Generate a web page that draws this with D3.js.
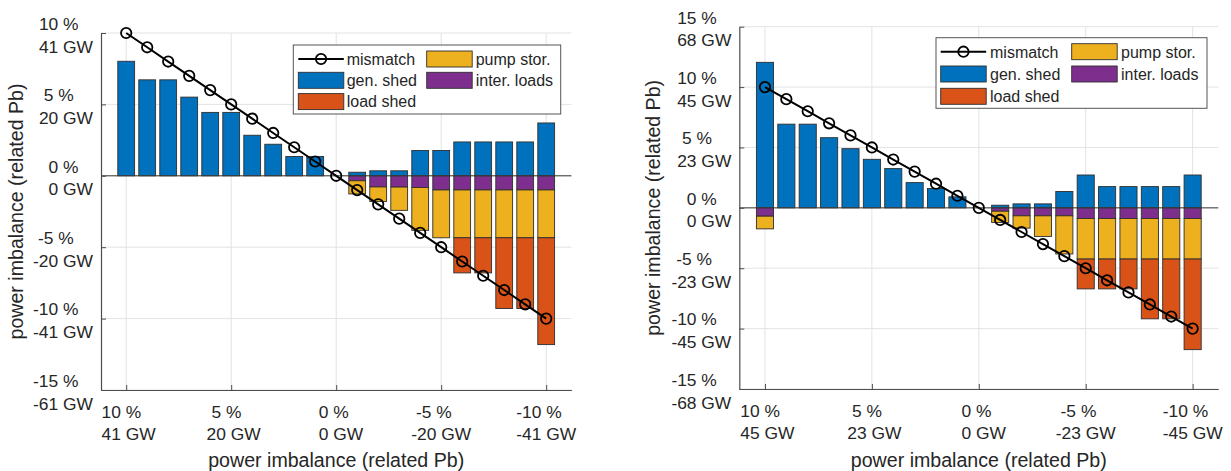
<!DOCTYPE html>
<html>
<head>
<meta charset="utf-8">
<script src="https://cdn.jsdelivr.net/npm/d3@7"></script>
<style>
  body { margin: 0; background: #fff; }
  svg { display: block; }
  text { font-family: "Liberation Sans", Arial, Helvetica, sans-serif; fill: #262626; }
  .tick-label { white-space: pre; }
</style>
</head>
<body>
<svg id="chart" width="1231" height="471"></svg>
<script>
// Imposed power imbalance (% of Pb), one bar group per step
const imbalance = [10, 9, 8, 7, 6, 5, 4, 3, 2, 1, 0, -1, -2, -3, -4, -5, -6, -7, -8, -9, -10];

// ---- Scenario A (Pb ≈ 410 GW) ----
const mismatchA   = [10, 9, 8, 7, 6, 5, 4, 3, 2, 1, 0, -1, -2, -3, -4, -5, -6, -7, -8, -9, -10];
const genShedA    = [8.02, 6.72, 6.72, 5.51, 4.44, 4.44, 2.84, 2.21, 1.35, 1.35, 0, 0.25, 0.35, 0.35, 1.77, 1.77, 2.37, 2.37, 2.37, 2.37, 3.70];
const interLoadsA = [0, 0, 0, 0, 0, 0, 0, 0, 0, 0, 0, -0.35, -0.78, -0.79, -0.82, -0.99, -0.99, -0.99, -0.99, -0.99, -0.99];
const pumpStorA   = [0, 0, 0, 0, 0, 0, 0, 0, 0, 0, 0, -0.92, -1.02, -1.63, -3.00, -3.35, -3.35, -3.35, -3.35, -3.35, -3.35];
const loadShedA   = [0, 0, 0, 0, 0, 0, 0, 0, 0, 0, 0, 0, 0, 0, 0, 0, -2.46, -2.46, -4.95, -4.95, -7.48];
const yTicksA     = [10, 5, 0, -5, -10, -15];
const yGWA        = [41, 20, 0, -20, -41, -61];
const xGWA        = [41, 20, 0, -20, -41];

// ---- Scenario B (Pb ≈ 450 GW) ----
const mismatchB   = [10, 9, 8, 7, 6, 5, 4, 3, 2, 1, 0, -1, -2, -3, -4, -5, -6, -7, -8, -9, -10];
const genShedB    = [12.05, 6.93, 6.93, 5.81, 4.90, 4.02, 3.25, 2.09, 1.60, 0.91, 0, 0.22, 0.33, 0.33, 1.35, 2.72, 1.76, 1.76, 1.76, 1.76, 2.72];
const interLoadsB = [-0.69, 0, 0, 0, 0, 0, 0, 0, 0, 0, 0, -0.28, -0.66, -0.66, -0.66, -0.88, -0.88, -0.88, -0.88, -0.88, -0.88];
const pumpStorB   = [-1.05, 0, 0, 0, 0, 0, 0, 0, 0, 0, 0, -0.93, -1.02, -1.71, -3.16, -3.36, -3.36, -3.36, -3.36, -3.36, -3.36];
const loadShedB   = [0, 0, 0, 0, 0, 0, 0, 0, 0, 0, 0, 0, 0, 0, 0, -2.47, -2.47, -2.47, -4.95, -4.95, -7.50];
const yTicksB     = [15, 10, 5, 0, -5, -10, -15];
const yGWB        = [68, 45, 23, 0, -23, -45, -68];
const xGWB        = [45, 23, 0, -23, -45];

const xTicks = [10, 5, 0, -5, -10];

const COLORS = { gen: "#0072BD", load: "#D95319", pump: "#EDB120", inter: "#7E2F8E" };
const TICK_FONT = 17.4;

const svg = d3.select("#chart");

// numbers are right-justified to three characters, as in "%3d"
const pad3 = n => String(n).padStart(3, " ");

// two-line tick label: lines share a left edge; returns width of the block
function tickLabel(g, lines) {
  const els = lines.map(s => g.append("text")
    .attr("class", "tick-label").attr("xml:space", "preserve")
    .attr("font-size", TICK_FONT).attr("text-anchor", "start").text(s));
  const w = d3.max(els, e => e.node().getComputedTextLength());
  return { els, w };
}

function drawPanel(p) {
  const x = d3.scaleLinear().domain([11.2, -11.2]).range([p.x0, p.x1]);
  const y = d3.scaleLinear().domain(p.yDomain).range([p.yBot, p.yTop]);
  const g = svg.append("g");

  // grid
  g.selectAll(".gx").data(xTicks).enter().append("line")
    .attr("x1", d => x(d)).attr("x2", d => x(d))
    .attr("y1", p.yTop).attr("y2", p.yBot)
    .attr("stroke", "#e3e3e3").attr("stroke-width", 1);
  g.selectAll(".gy").data(p.yTicks).enter().append("line")
    .attr("x1", p.x0).attr("x2", p.x1)
    .attr("y1", d => y(d)).attr("y2", d => y(d))
    .attr("stroke", "#e3e3e3").attr("stroke-width", 1);

  // stacked bars: positive part = gen. shed, negative part = inter. loads, pump stor., load shed
  const bw = (x(0) - x(1)) * 0.8;
  const segs = [];
  imbalance.forEach((c, i) => {
    if (p.gen[i] !== 0) segs.push({ c, v0: 0, v1: p.gen[i], col: COLORS.gen });
    let base = 0;
    [[p.inter[i], COLORS.inter], [p.pump[i], COLORS.pump], [p.load[i], COLORS.load]].forEach(([v, col]) => {
      if (v !== 0) { segs.push({ c, v0: base, v1: base + v, col }); base += v; }
    });
  });
  g.selectAll(".bar").data(segs).enter().append("rect")
    .attr("x", d => x(d.c) - bw / 2)
    .attr("width", bw)
    .attr("y", d => y(Math.max(d.v0, d.v1)))
    .attr("height", d => Math.abs(y(d.v0) - y(d.v1)))
    .attr("fill", d => d.col)
    .attr("stroke", "#2e2e2e").attr("stroke-width", 0.9);

  // zero reference line
  g.append("line").attr("x1", p.x0).attr("x2", p.x1)
    .attr("y1", y(0)).attr("y2", y(0))
    .attr("stroke", "#3a3a3a").attr("stroke-width", 1);

  // mismatch curve
  const pts = imbalance.map((c, i) => [x(c), y(p.mismatch[i])]);
  g.append("path").attr("d", d3.line()(pts))
    .attr("fill", "none").attr("stroke", "#000").attr("stroke-width", 2);
  g.selectAll(".mk").data(pts).enter().append("circle")
    .attr("cx", d => d[0]).attr("cy", d => d[1]).attr("r", 5.2)
    .attr("fill", "none").attr("stroke", "#000").attr("stroke-width", 1.8);

  // axes
  const xAxis = d3.axisBottom(x).tickValues(xTicks).tickSizeInner(-5).tickSizeOuter(0).tickFormat("");
  const gx = g.append("g").attr("transform", `translate(0,${p.yBot})`).call(xAxis);
  const yAxis = d3.axisLeft(y).tickValues(p.yTicks).tickSizeInner(-5).tickSizeOuter(0).tickFormat("");
  const gy = g.append("g").attr("transform", `translate(${p.x0},0)`).call(yAxis);
  [gx, gy].forEach(a => {
    a.select(".domain").attr("stroke", "#4d4d4d").attr("stroke-width", 1.2);
    a.selectAll(".tick line").attr("stroke", "#4d4d4d");
  });

  // two-line tick labels: percent and GW
  xTicks.forEach((t, i) => {
    const { els, w } = tickLabel(g, [`${pad3(t)} %`, `${pad3(p.xGW[i])} GW`]);
    const left = x(t) - w / 2;
    els[0].attr("x", left).attr("y", p.yBot + 28);
    els[1].attr("x", left).attr("y", p.yBot + 50.3);
  });
  p.yTicks.forEach((t, i) => {
    const { els, w } = tickLabel(g, [`${pad3(t)} %`, `${pad3(p.yGW[i])} GW`]);
    const left = p.x0 - 8 - w;
    els[0].attr("x", left).attr("y", y(t) - 3.2);
    els[1].attr("x", left).attr("y", y(t) + 19.6);
  });

  // axis titles
  g.append("text").attr("x", (p.x0 + p.x1) / 2).attr("y", 467)
    .attr("text-anchor", "middle").attr("font-size", 19.6)
    .text("power imbalance (related Pb)");
  g.append("text")
    .attr("transform", `translate(${p.ylabX},${(p.yTop + p.yBot) / 2}) rotate(-90)`)
    .attr("text-anchor", "middle").attr("font-size", 19.6)
    .text("power imbalance (related Pb)");

  // legend
  const L = p.leg;
  const lg = g.append("g");
  lg.append("rect").attr("x", L.x).attr("y", L.y).attr("width", L.w).attr("height", L.h)
    .attr("fill", "#fff").attr("stroke", "#555").attr("stroke-width", 1);
  const items = [
    { name: "mismatch", type: "line", col: 0, row: 0 },
    { name: "gen. shed", type: "patch", c: COLORS.gen, col: 0, row: 1 },
    { name: "load shed", type: "patch", c: COLORS.load, col: 0, row: 2 },
    { name: "pump stor.", type: "patch", c: COLORS.pump, col: 1, row: 0 },
    { name: "inter. loads", type: "patch", c: COLORS.inter, col: 1, row: 1 }
  ];
  items.forEach(it => {
    const ix = L.x + L.icon[it.col];
    const cy = L.y + L.row0 + it.row * L.gap;
    if (it.type === "line") {
      lg.append("line").attr("x1", ix).attr("x2", ix + L.iw).attr("y1", cy).attr("y2", cy)
        .attr("stroke", "#000").attr("stroke-width", 2);
      lg.append("circle").attr("cx", ix + L.iw / 2).attr("cy", cy).attr("r", 5.2)
        .attr("fill", "none").attr("stroke", "#000").attr("stroke-width", 1.8);
    } else {
      lg.append("rect").attr("x", ix).attr("y", cy - 8).attr("width", L.iw).attr("height", 16)
        .attr("fill", it.c).attr("stroke", "#2e2e2e").attr("stroke-width", 0.9);
    }
    lg.append("text").attr("x", L.x + L.text[it.col]).attr("y", cy + 5.8)
      .attr("font-size", 16).text(it.name);
  });
}

drawPanel({
  x0: 101, x1: 571.4, yTop: 33, yBot: 390, yDomain: [-15, 10],
  yTicks: yTicksA, yGW: yGWA, xGW: xGWA, ylabX: 23,
  mismatch: mismatchA, gen: genShedA, inter: interLoadsA, pump: pumpStorA, load: loadShedA,
  leg: { x: 293.3, y: 45, w: 267.4, h: 69, icon: [5, 133.4], text: [53.4, 182.4], iw: 45.5, row0: 14, gap: 21.3 }
});

drawPanel({
  x0: 739.3, x1: 1218.3, yTop: 26.7, yBot: 389, yDomain: [-15, 15],
  yTicks: yTicksB, yGW: yGWB, xGW: xGWB, ylabX: 660,
  mismatch: mismatchB, gen: genShedB, inter: interLoadsB, pump: pumpStorB, load: loadShedB,
  leg: { x: 936, y: 37.7, w: 271, h: 70.6, icon: [4.7, 135.7], text: [54, 185], iw: 45.5, row0: 14, gap: 22.3 }
});
</script>
</body>
</html>
